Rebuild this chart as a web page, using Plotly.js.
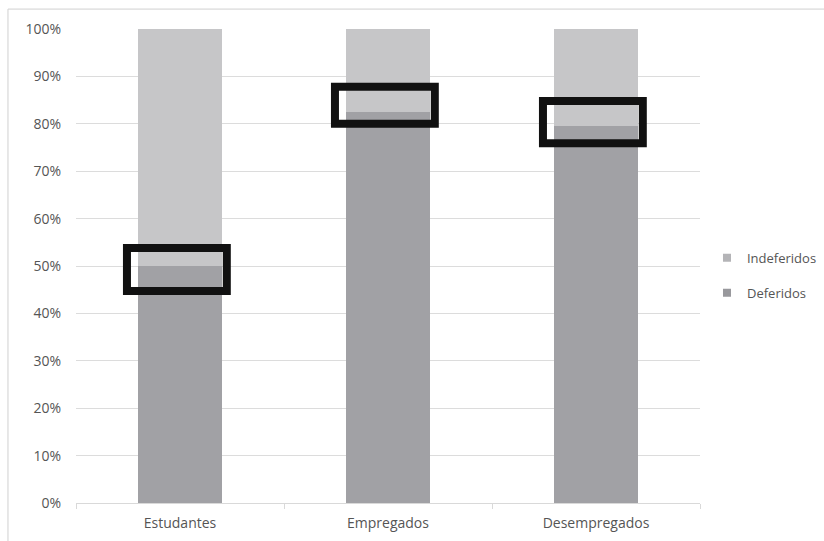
<!DOCTYPE html>
<html>
<head>
<meta charset="utf-8">
<script src="https://cdn.plot.ly/plotly-3.0.1.min.js"></script>
<style>
  html, body { margin: 0; padding: 0; background: #ffffff; }
  #chart { width: 824px; height: 541px; }
</style>
</head>
<body>
<div id="chart"></div>
<script>
// Share of requests by situation (100% stacked)
const categories = ['Estudantes', 'Empregados', 'Desempregados'];
const deferidos = [50, 82.5, 79.5];
const indeferidos = [50, 17.5, 20.5];
const yTickValues = [0, 10, 20, 30, 40, 50, 60, 70, 80, 90, 100];
const yTickLabels = ['0%', '10%', '20%', '30%', '40%', '50%', '60%', '70%', '80%', '90%', '100%'];

const FONT = '"Open Sans", "DejaVu Sans", Arial, sans-serif';
const TEXT = '#555555';
const COLOR_DEF = '#a1a1a5';
const COLOR_IND = '#c6c6c8';

const traces = [
  {
    type: 'bar', name: 'Deferidos', x: categories, y: deferidos,
    marker: { color: COLOR_DEF }, showlegend: false, hoverinfo: 'skip'
  },
  {
    type: 'bar', name: 'Indeferidos', x: categories, y: indeferidos,
    marker: { color: COLOR_IND }, showlegend: false, hoverinfo: 'skip'
  },
  // legend entries with small square keys
  {
    type: 'scatter', mode: 'markers', name: 'Indeferidos', x: [categories[0]], y: [null],
    marker: { symbol: 'square', size: 8, color: '#b4b4b7' }, legendgroup: 'i', legendrank: 1, hoverinfo: 'skip'
  },
  {
    type: 'scatter', mode: 'markers', name: 'Deferidos', x: [categories[0]], y: [null],
    marker: { symbol: 'square', size: 8, color: '#98989c' }, legendgroup: 'd', legendrank: 2, hoverinfo: 'skip'
  }
];

// Frames drawn around the boundary between the two segments of each bar
const frameBelow = [5.3, 2.5, 3.6];
const frameAbove = [3.8, 5.3, 5.3];
const frameHalfWidth = 0.24;
const shapes = categories.map((c, i) => ({
  type: 'rect', xref: 'x', yref: 'y',
  x0: i - frameHalfWidth - 0.015, x1: i + frameHalfWidth - 0.015,
  y0: deferidos[i] - frameBelow[i], y1: deferidos[i] + frameAbove[i],
  line: { color: '#111111', width: 8 }, fillcolor: 'rgba(0,0,0,0)', layer: 'above'
}));
// outer chart border
shapes.push({
  type: 'rect', xref: 'paper', yref: 'paper',
  x0: -0.109, x1: 1.25, y0: -0.12, y1: 1.042,
  line: { color: '#d0d0d0', width: 1 }, fillcolor: 'rgba(0,0,0,0)', layer: 'below'
});

const layout = {
  width: 824, height: 541,
  margin: { l: 76, r: 124, t: 29, b: 38, autoexpand: false },
  paper_bgcolor: '#ffffff', plot_bgcolor: '#ffffff',
  barmode: 'stack', bargap: 0.6,
  font: { family: FONT, size: 13, color: TEXT },
  showlegend: true,
  legend: {
    xref: 'container', yref: 'container',
    x: 0.858, y: 0.491, xanchor: 'left', yanchor: 'middle',
    traceorder: 'grouped', tracegroupgap: 15,
    font: { family: FONT, size: 13, color: TEXT },
    itemwidth: 30, bgcolor: 'rgba(0,0,0,0)'
  },
  xaxis: {
    type: 'category', categoryorder: 'array', categoryarray: categories,
    showgrid: false, showline: true, linecolor: '#d9d9d9', linewidth: 1,
    ticks: 'outside', tickson: 'boundaries', ticklen: 5, tickcolor: '#d9d9d9',
    ticklabelstandoff: 7,
    tickfont: { family: FONT, size: 14, color: TEXT }, zeroline: false
  },
  yaxis: {
    range: [0, 100], tickmode: 'array', tickvals: yTickValues, ticktext: yTickLabels,
    showgrid: true, gridcolor: '#dcdcdc', gridwidth: 1, zeroline: false,
    showline: false, ticks: '', ticklabelstandoff: 14,
    tickfont: { family: FONT, size: 14, color: TEXT }
  },
  shapes: shapes
};

Plotly.newPlot('chart', traces, layout, { staticPlot: true, displayModeBar: false });
</script>
</body>
</html>
